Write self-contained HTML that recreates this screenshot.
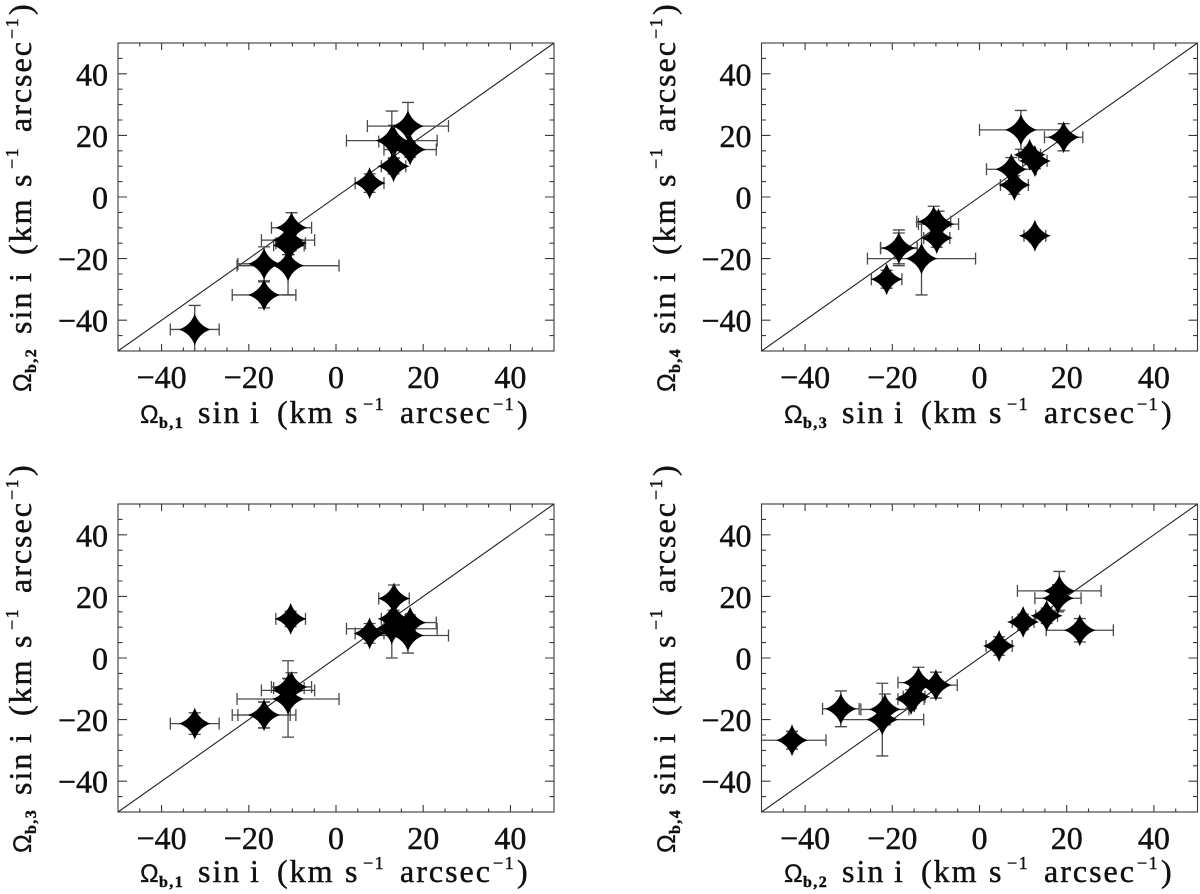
<!DOCTYPE html>
<html><head><meta charset="utf-8"><title>Pattern speed comparison</title>
<style>
html,body{margin:0;padding:0;background:#fff}
svg{display:block}
text{font-family:"Liberation Serif",serif;fill:#111;stroke:#111;stroke-width:.45px}
.t{font-size:32px;letter-spacing:2px}
.o{font-size:25px;font-family:"Liberation Sans",sans-serif;stroke-width:.3px}
.s{font-size:16px;font-weight:bold;letter-spacing:1.4px}
.u{font-size:18px;letter-spacing:1.5px}
</style></head>
<body>
<svg id="figure" width="1200" height="894" viewBox="0 0 1200 894" xmlns="http://www.w3.org/2000/svg">
<g><text transform="translate(140,423)"><tspan class="o" x="0" y="0">Ω</tspan><tspan class="s" x="19" y="5">b,1</tspan><tspan class="t" x="58" y="0">sin</tspan><tspan class="t" x="110" y="0">i</tspan><tspan class="t" x="137" y="0">(km</tspan><tspan class="t" x="205" y="0">s</tspan><tspan class="u" x="223" y="-13">−1</tspan><tspan class="t" x="260" y="0">arcsec</tspan><tspan class="u" x="353" y="-13">−1</tspan><tspan class="t" x="377" y="0">)</tspan></text></g>
<g><text transform="translate(31,392) rotate(-90)"><tspan class="o" x="0" y="0">Ω</tspan><tspan class="s" x="19" y="5">b,2</tspan><tspan class="t" x="58" y="0">sin</tspan><tspan class="t" x="110" y="0">i</tspan><tspan class="t" x="137" y="0">(km</tspan><tspan class="t" x="205" y="0">s</tspan><tspan class="u" x="223" y="-13">−1</tspan><tspan class="t" x="260" y="0">arcsec</tspan><tspan class="u" x="353" y="-13">−1</tspan><tspan class="t" x="377" y="0">)</tspan></text></g>
<g><text transform="translate(784,423)"><tspan class="o" x="0" y="0">Ω</tspan><tspan class="s" x="19" y="5">b,3</tspan><tspan class="t" x="58" y="0">sin</tspan><tspan class="t" x="110" y="0">i</tspan><tspan class="t" x="137" y="0">(km</tspan><tspan class="t" x="205" y="0">s</tspan><tspan class="u" x="223" y="-13">−1</tspan><tspan class="t" x="260" y="0">arcsec</tspan><tspan class="u" x="353" y="-13">−1</tspan><tspan class="t" x="377" y="0">)</tspan></text></g>
<g><text transform="translate(675,392) rotate(-90)"><tspan class="o" x="0" y="0">Ω</tspan><tspan class="s" x="19" y="5">b,4</tspan><tspan class="t" x="58" y="0">sin</tspan><tspan class="t" x="110" y="0">i</tspan><tspan class="t" x="137" y="0">(km</tspan><tspan class="t" x="205" y="0">s</tspan><tspan class="u" x="223" y="-13">−1</tspan><tspan class="t" x="260" y="0">arcsec</tspan><tspan class="u" x="353" y="-13">−1</tspan><tspan class="t" x="377" y="0">)</tspan></text></g>
<g><text transform="translate(140,882)"><tspan class="o" x="0" y="0">Ω</tspan><tspan class="s" x="19" y="5">b,1</tspan><tspan class="t" x="58" y="0">sin</tspan><tspan class="t" x="110" y="0">i</tspan><tspan class="t" x="137" y="0">(km</tspan><tspan class="t" x="205" y="0">s</tspan><tspan class="u" x="223" y="-13">−1</tspan><tspan class="t" x="260" y="0">arcsec</tspan><tspan class="u" x="353" y="-13">−1</tspan><tspan class="t" x="377" y="0">)</tspan></text></g>
<g><text transform="translate(31,853) rotate(-90)"><tspan class="o" x="0" y="0">Ω</tspan><tspan class="s" x="19" y="5">b,3</tspan><tspan class="t" x="58" y="0">sin</tspan><tspan class="t" x="110" y="0">i</tspan><tspan class="t" x="137" y="0">(km</tspan><tspan class="t" x="205" y="0">s</tspan><tspan class="u" x="223" y="-13">−1</tspan><tspan class="t" x="260" y="0">arcsec</tspan><tspan class="u" x="353" y="-13">−1</tspan><tspan class="t" x="377" y="0">)</tspan></text></g>
<g><text transform="translate(784,882)"><tspan class="o" x="0" y="0">Ω</tspan><tspan class="s" x="19" y="5">b,2</tspan><tspan class="t" x="58" y="0">sin</tspan><tspan class="t" x="110" y="0">i</tspan><tspan class="t" x="137" y="0">(km</tspan><tspan class="t" x="205" y="0">s</tspan><tspan class="u" x="223" y="-13">−1</tspan><tspan class="t" x="260" y="0">arcsec</tspan><tspan class="u" x="353" y="-13">−1</tspan><tspan class="t" x="377" y="0">)</tspan></text></g>
<g><text transform="translate(675,853) rotate(-90)"><tspan class="o" x="0" y="0">Ω</tspan><tspan class="s" x="19" y="5">b,4</tspan><tspan class="t" x="58" y="0">sin</tspan><tspan class="t" x="110" y="0">i</tspan><tspan class="t" x="137" y="0">(km</tspan><tspan class="t" x="205" y="0">s</tspan><tspan class="u" x="223" y="-13">−1</tspan><tspan class="t" x="260" y="0">arcsec</tspan><tspan class="u" x="353" y="-13">−1</tspan><tspan class="t" x="377" y="0">)</tspan></text></g>
</svg>
<script>
// Values for each of the 14 galaxies, one entry per galaxy (km/s/arcsec).
const omega1 = [-32.4,-16.5,-16.5,-11.0,-10.4,-11.0,-10.2,-10.8,7.7,13.2,17.0,13.3,12.8,16.5];
const omega2 = [-43.0,-31.8,-21.7,-22.3,-15.0,-14.0,-10.0,-15.7,4.5,10.0,15.4,18.0,18.3,23.0];
const omega3 = [-21.3,-18.5,-18.5,-13.3,12.7,-10.5,-9.4,-9.8,8.0,12.7,11.5,19.3,9.5,7.3];
const omega4 = [-26.7,-16.5,-16.7,-20.0,-12.6,-8.0,-8.8,-13.3,3.9,11.7,13.7,19.4,21.8,9.0];
const error1 = [5.6,7.3,6.0,11.7,3.4,6.1,4.6,3.5,3.3,2.8,6.0,3.5,10.4,9.3];
const error2 = [7.8,4.2,5.5,9.5,2.5,4.7,4.9,3.0,3.0,2.5,2.5,5.3,9.6,7.7];
const error3 = [3.5,4.2,4.2,12.4,2.5,3.9,4.6,3.0,3.2,2.8,2.5,4.4,9.5,5.7];
const error4 = [2.9,5.8,5.0,11.8,2.0,5.0,4.2,3.0,3.0,2.5,2.5,4.4,6.3,3.8];
const tickValues = [-40,-20,0,20,40];
const tickLabels = ['−40','−20','0','20','40'];
const minorTickValues = [-45,-35,-30,-25,-15,-10,-5,5,10,15,25,30,35,45];
const axisMin = -50;
const axisMax = 50;

const NS = 'http://www.w3.org/2000/svg';
const figure = document.getElementById('figure');
const PW = 436, PH = 308, AXIS = '#3a3a3a', ERR = '#4a4a4a';

function make(tag, parent, attrs) {
  const el = document.createElementNS(NS, tag);
  for (const k in attrs) el.setAttribute(k, attrs[k]);
  parent.appendChild(el);
  return el;
}

function drawPanel(id, left, top, xs, xe, ys, ye) {
  const sx = v => left + (v - axisMin) / (axisMax - axisMin) * PW;
  const sy = v => top + PH - (v - axisMin) / (axisMax - axisMin) * PH;

  const panel = make('g', figure, {});
  
  

  const clip = make('clipPath', panel, {id: 'clip-' + id});
  make('rect', clip, {x: left, y: top, width: PW, height: PH});

  const diagonal = make('line', panel, {x1: sx(axisMin), y1: sy(axisMin), x2: sx(axisMax), y2: sy(axisMax), stroke: '#222', 'stroke-width': 1.1});
  
  

  const bars = make('g', panel, {'clip-path': 'url(#clip-' + id + ')', stroke: ERR, 'stroke-width': 1.3, fill: 'none'});
  
  
  const stars = make('g', panel, {'clip-path': 'url(#clip-' + id + ')', fill: '#000'});
  
  

  xs.forEach((x, i) => {
    const y = ys[i], px = sx(x), py = sy(y);
    const x0 = sx(x - xe[i]), x1 = sx(x + xe[i]), y0 = sy(y - ye[i]), y1 = sy(y + ye[i]);
    const d = `M${x0} ${py}H${x1}M${x0} ${py - 6}V${py + 6}M${x1} ${py - 6}V${py + 6}` +
              `M${px} ${y0}V${y1}M${px - 6} ${y0}H${px + 6}M${px - 6} ${y1}H${px + 6}`;
    const bar = make('path', bars, {d: d});
    
    
    const star = make('path', stars, {
      d: 'M0 -16Q4 -4 16 0Q4 4 0 16Q-4 4 -16 0Q-4 -4 0 -16Z',
      transform: `translate(${px},${py})`
    });
    
    
  });

  const frame = make('rect', panel, {x: left, y: top, width: PW, height: PH, fill: 'none', stroke: AXIS, 'stroke-width': 1.1});
  
  

  const ticks = make('g', panel, {stroke: AXIS, 'stroke-width': 1.1});
  
  
  const addTicks = (vals, lx, ly) => vals.forEach(v => {
    const px = sx(v), py = sy(v);
    const xt = make('path', ticks, {d: `M${px} ${top + PH}v${-lx}M${px} ${top}v${lx}`});
    
    
    const yt = make('path', ticks, {d: `M${left} ${py}h${ly}M${left + PW} ${py}h${-ly}`});
    
    
  });
  addTicks(tickValues, 7, 9);
  addTicks(minorTickValues, 3.5, 4.5);

  tickValues.forEach((v, i) => {
    const xl = make('text', panel, {x: sx(v), y: top + PH + 37, 'text-anchor': 'middle', 'font-size': 32});
    
    
    xl.textContent = tickLabels[i];
    const yl = make('text', panel, {x: left - 10, y: sy(v) + 11.5, 'text-anchor': 'end', 'font-size': 32});
    
    
    yl.textContent = tickLabels[i];
  });
}

drawPanel('1', 118, 43, omega1, error1, omega2, error2);
drawPanel('2', 761.5, 43, omega3, error3, omega4, error4);
drawPanel('3', 118, 504, omega1, error1, omega3, error3);
drawPanel('4', 761.5, 504, omega2, error2, omega4, error4);
</script>
</body></html>
